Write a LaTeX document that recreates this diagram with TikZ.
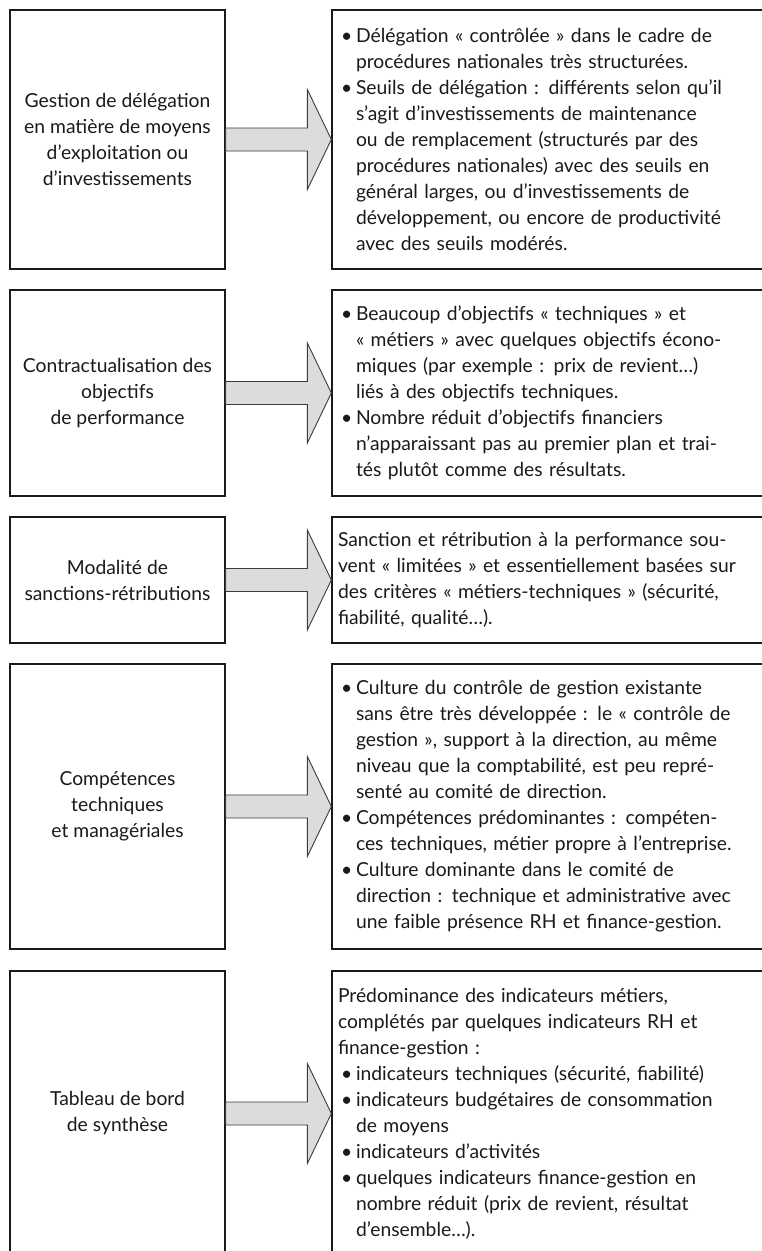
\documentclass[tikz,border=0pt]{standalone}
\usepackage{fontspec}
\setmainfont{Lato}
\usetikzlibrary{calc}
\definecolor{ink}{HTML}{1A1A1A}
\definecolor{arrowfill}{HTML}{DCDCDC}
\definecolor{arrowline}{HTML}{3C3C3C}
% bullet and continuation indent for the lists in the right-hand boxes
\newcommand{\bul}{\makebox[18pt][l]{\hspace{3pt}\textbullet}}
\newcommand{\cont}{\hspace*{18pt}}
\begin{document}
\begin{tikzpicture}[x=1pt,y=-1pt,
  txt/.style={font=\fontsize{19.3}{26}\selectfont, text=ink},
  leftbox/.style={txt, draw=ink, line width=1.3pt, minimum width=215pt,
    align=center, inner sep=0pt},
  rightbox/.style={txt, draw=ink, line width=1.3pt, minimum width=434pt,
    text width=422pt, inner xsep=6pt, inner ysep=0pt, align=left},
  blockarrow/.style={fill=arrowfill, draw=arrowline, line width=0.9pt, line join=miter}
]
\useasboundingbox (0,0) rectangle (762,1251);
\fill[white] (0,0) rectangle (762,1251);
\clip (0,0) rectangle (762,1251);

% ---- row 1
\node[leftbox, minimum height=259pt] (L1) at (117.5,139.5)
  {Gestion de délégation\\en matière de moyens\\d’exploitation ou\\d’investissements};
\node[rightbox, minimum height=259pt] (R1) at (549,139.5)
  {\bul Délégation « contrôlée » dans le cadre de\\
   \cont procédures nationales très structurées.\\
   \bul Seuils de délégation : différents selon qu’il\\
   \cont s’agit d’investissements de maintenance\\
   \cont ou de remplacement (structurés par des\\
   \cont procédures nationales) avec des seuils en\\
   \cont général larges, ou d’investissements de\\
   \cont développement, ou encore de productivité\\
   \cont avec des seuils modérés.};

% ---- row 2
\node[leftbox, minimum height=206pt] (L2) at (117.5,393)
  {Contractualisation des\\objectifs\\de performance};
\node[rightbox, minimum height=206pt] (R2) at (549,393)
  {\bul Beaucoup d’objectifs « techniques » et\\
   \cont « métiers » avec quelques objectifs écono-\\
   \cont miques (par exemple : prix de revient…)\\
   \cont liés à des objectifs techniques.\\
   \bul Nombre réduit d’objectifs financiers\\
   \cont n’apparaissant pas au premier plan et trai-\\
   \cont tés plutôt comme des résultats.};

% ---- row 3
\node[leftbox, minimum height=126pt] (L3) at (117.5,580)
  {Modalité de\\sanctions-rétributions};
\node[rightbox, minimum height=126pt] (R3) at (549,580)
  {Sanction et rétribution à la performance sou-\\
   vent « limitées » et essentiellement basées sur\\
   des critères « métiers-techniques » (sécurité,\\
   fiabilité, qualité…).};

% ---- row 4
\node[leftbox, minimum height=285pt] (L4) at (117.5,806.5)
  {Compétences\\techniques\\et managériales};
\node[rightbox, minimum height=285pt] (R4) at (549,806.5)
  {\bul Culture du contrôle de gestion existante\\
   \cont sans être très développée : le « contrôle de\\
   \cont gestion », support à la direction, au même\\
   \cont niveau que la comptabilité, est peu repré-\\
   \cont senté au comité de direction.\\
   \bul Compétences prédominantes : compéten-\\
   \cont ces techniques, métier propre à l’entreprise.\\
   \bul Culture dominante dans le comité de\\
   \cont direction : technique et administrative avec\\
   \cont une faible présence RH et finance-gestion.};

% ---- row 5
\node[leftbox, minimum height=285pt] (L5) at (117.5,1113.5)
  {Tableau de bord\\de synthèse};
\node[rightbox, minimum height=285pt] (R5) at (549,1113.5)
  {Prédominance des indicateurs métiers,\\
   complétés par quelques indicateurs RH et\\
   finance-gestion :\\
   \bul indicateurs techniques (sécurité, fiabilité)\\
   \bul indicateurs budgétaires de consommation\\
   \cont de moyens\\
   \bul indicateurs d’activités\\
   \bul quelques indicateurs finance-gestion en\\
   \cont nombre réduit (prix de revient, résultat\\
   \cont d’ensemble…).};

% ---- block arrows from each left box to its right box
\foreach \i in {1,...,5}{
  \draw[blockarrow]
    ($(L\i.east)+(0,-11.5)$) -- ($(R\i.west)+(-24,-11.5)$)
    -- ($(R\i.west)+(-24,-50)$) -- (R\i.west)
    -- ($(R\i.west)+(-24,50)$) -- ($(R\i.west)+(-24,11.5)$)
    -- ($(L\i.east)+(0,11.5)$) -- cycle;
}
\end{tikzpicture}
\end{document}
